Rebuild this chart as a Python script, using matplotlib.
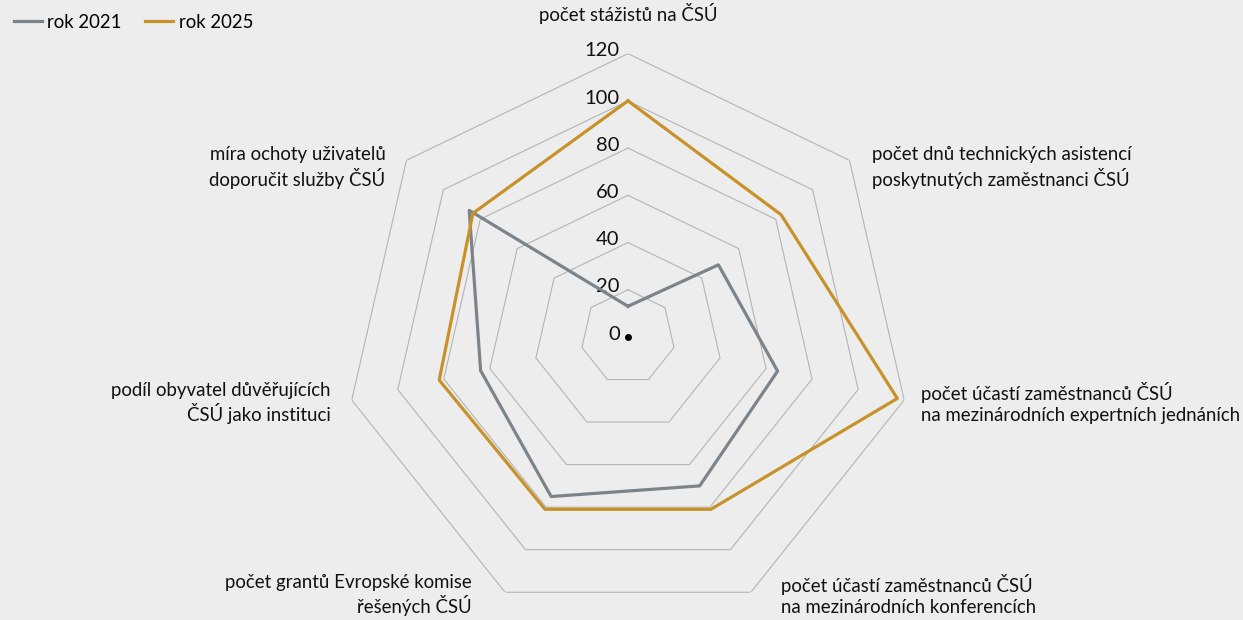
import numpy as np
import matplotlib.pyplot as plt

# ------------------------------------------------------------
# Data
# ------------------------------------------------------------
kategorie = [
    "počet stážistů na ČSÚ",
    "počet dnů technických asistencí\nposkytnutých zaměstnanci ČSÚ",
    "počet účastí zaměstnanců ČSÚ\nna mezinárodních expertních jednáních",
    "počet účastí zaměstnanců ČSÚ\nna mezinárodních konferencích",
    "počet grantů Evropské komise\nřešených ČSÚ",
    "podíl obyvatel důvěřujících\nČSÚ jako instituci",
    "míra ochoty uživatelů\ndoporučit služby ČSÚ",
]
rok_2021 = [13, 49, 65, 70, 75, 64, 86]
rok_2025 = [100, 83, 117, 81, 81, 82, 84]
radialni_ticky = [0, 20, 40, 60, 80, 100, 120]

barva_2021 = "#7D8489"
barva_2025 = "#C8922B"
pozadi = "#EDEDED"

plt.rcParams["font.family"] = ["Lato", "DejaVu Sans"]

n = len(kategorie)
uhly = np.linspace(0, 2 * np.pi, n, endpoint=False)
uhly_uzavrene = np.append(uhly, uhly[0])

fig = plt.figure(figsize=(12.43, 6.2), dpi=100, facecolor=pozadi)
ax = fig.add_axes([0.2772, -0.0005, 0.456, 0.914], projection="polar")
ax.set_facecolor(pozadi)
ax.set_theta_offset(np.pi / 2)
ax.set_theta_direction(-1)
ax.set_ylim(0, 120)
ax.grid(False)
ax.spines["polar"].set_visible(False)
ax.set_xticks([])
ax.set_yticks([])
ax.patch.set_alpha(0)

# polygon grid
for r in radialni_ticky[1:]:
    ax.plot(uhly_uzavrene, [r] * (n + 1), color="#B4B4B4", lw=0.8, zorder=1)

# radial labels
for r in radialni_ticky:
    ax.annotate(str(r), xy=(0, r), xytext=(-6, 2), textcoords="offset points",
                ha="right", va="center", fontsize=14.5, color="#111111")
ax.plot([0], [0], "o", color="black", ms=4, zorder=5)

# series
ax.plot(uhly_uzavrene, rok_2021 + rok_2021[:1], color=barva_2021, lw=2.3,
        label="rok 2021", zorder=3)
ax.plot(uhly_uzavrene, rok_2025 + rok_2025[:1], color=barva_2025, lw=2.3,
        label="rok 2025", zorder=4)

# category labels
posuny = [(0, 29), (16, -5), (12, -2), (22, -2), (-24, -2), (-15, -2), (-15, -5)]
zarovnani = ["center", "left", "left", "left", "right", "right", "right"]
for uhel, text, posun, ha in zip(uhly, kategorie, posuny, zarovnani):
    ax.annotate(text, xy=(uhel, 120), xytext=posun, textcoords="offset points",
                ha=ha, va="center", fontsize=13.4, color="#111111",
                multialignment=ha, linespacing=1.25,
                annotation_clip=False)

fig.legend(loc="upper left", bbox_to_anchor=(0.0, 1.0), frameon=False,
           ncol=2, fontsize=13.4, handlelength=1.5, handletextpad=0.3,
           columnspacing=1.25, borderaxespad=0.35)

fig.savefig("out.png", dpi=100, facecolor=pozadi)
